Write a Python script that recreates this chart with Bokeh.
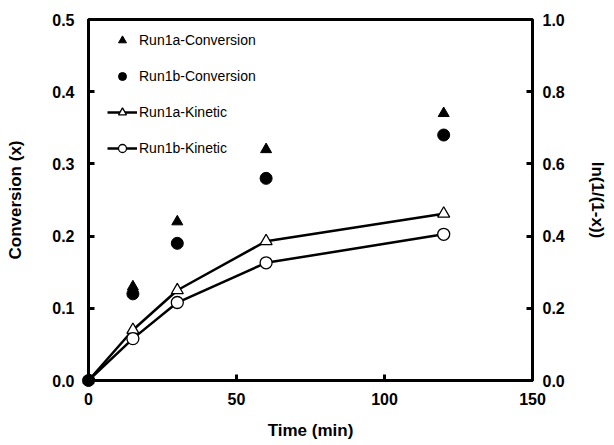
from bokeh.plotting import figure
from bokeh.models import Range1d, LinearAxis, Legend, LegendItem, FixedTicker, NumeralTickFormatter
from bokeh.embed import file_html
from bokeh.resources import INLINE

# Data
time = [0, 15, 30, 60, 120]
run1a_conv = [0.0, 0.13, 0.22, 0.32, 0.37]
run1b_conv = [0.0, 0.12, 0.19, 0.28, 0.34]
run1a_kin = [0.0, 0.14, 0.25, 0.386, 0.462]
run1b_kin = [0.0, 0.116, 0.216, 0.326, 0.405]
x_ticks = [0, 50, 100, 150]
y_ticks = [0.0, 0.1, 0.2, 0.3, 0.4, 0.5]
y2_ticks = [0.0, 0.2, 0.4, 0.6, 0.8, 1.0]

FONT = "Liberation Sans"

p = figure(width=614, height=445, output_backend="svg", toolbar_location=None,
           x_range=Range1d(0, 150), y_range=Range1d(0, 0.5),
           min_border_left=88, min_border_right=82, min_border_top=19, min_border_bottom=65)
p.extra_y_ranges = {"kin": Range1d(0, 1.0)}
p.grid.visible = False
p.outline_line_color = "black"
p.outline_line_width = 3
p.background_fill_color = "white"
p.border_fill_color = "white"

right = LinearAxis(y_range_name="kin", axis_label="ln(1/(1-x))")
p.add_layout(right, "right")

for ax in [p.xaxis[0], p.yaxis[0], right]:
    ax.axis_line_width = 3
    ax.axis_line_color = "black"
    ax.major_tick_in = 6
    ax.major_tick_out = 0
    ax.major_tick_line_width = 3
    ax.minor_tick_line_color = None
    ax.major_label_text_font = FONT
    ax.major_label_text_font_style = "bold"
    ax.major_label_text_font_size = "16px"
    ax.major_label_text_color = "black"
    ax.axis_label_text_font = FONT
    ax.axis_label_text_font_style = "bold"
    ax.axis_label_text_font_size = "17px"
    ax.axis_label_text_color = "black"

p.xaxis[0].ticker = FixedTicker(ticks=x_ticks)
p.xaxis[0].axis_label = "Time (min)"
p.xaxis[0].major_label_standoff = 12
p.xaxis[0].axis_label_standoff = 13
p.yaxis[0].ticker = FixedTicker(ticks=y_ticks)
p.yaxis[0].formatter = NumeralTickFormatter(format="0.0")
p.yaxis[0].axis_label = "Conversion (x)"
p.yaxis[0].major_label_standoff = 14
p.yaxis[0].axis_label_standoff = 24
right.ticker = FixedTicker(ticks=y2_ticks)
right.formatter = NumeralTickFormatter(format="0.0")
right.major_label_standoff = 10
right.axis_label_standoff = 20

l3 = p.line(time, run1a_kin, y_range_name="kin", line_width=2.5, color="black")
s3 = p.scatter(time, run1a_kin, y_range_name="kin", marker="triangle", size=12,
               fill_color="white", line_color="black", line_width=1.3)
l4 = p.line(time, run1b_kin, y_range_name="kin", line_width=2.5, color="black")
s4 = p.scatter(time, run1b_kin, y_range_name="kin", marker="circle", size=12,
               fill_color="white", line_color="black", line_width=1.3)
r1 = p.scatter(time, run1a_conv, marker="triangle", size=11, color="black", level="overlay")
r2 = p.scatter(time, run1b_conv, marker="circle", size=12, color="black", level="overlay")

legend = Legend(items=[
    LegendItem(label="Run1a-Conversion", renderers=[r1]),
    LegendItem(label="Run1b-Conversion", renderers=[r2]),
    LegendItem(label="Run1a-Kinetic", renderers=[l3, s3]),
    LegendItem(label="Run1b-Kinetic", renderers=[l4, s4]),
], location=(19, 222))
legend.border_line_color = None
legend.background_fill_alpha = 0
legend.padding = 0
legend.margin = 0
legend.spacing = 16
legend.glyph_width = 30
legend.glyph_height = 20
legend.label_standoff = 2
legend.label_text_font = FONT
legend.label_text_font_size = "14px"
legend.label_text_color = "black"
p.add_layout(legend, "center")

open("out.html", "w").write(file_html(p, INLINE))
